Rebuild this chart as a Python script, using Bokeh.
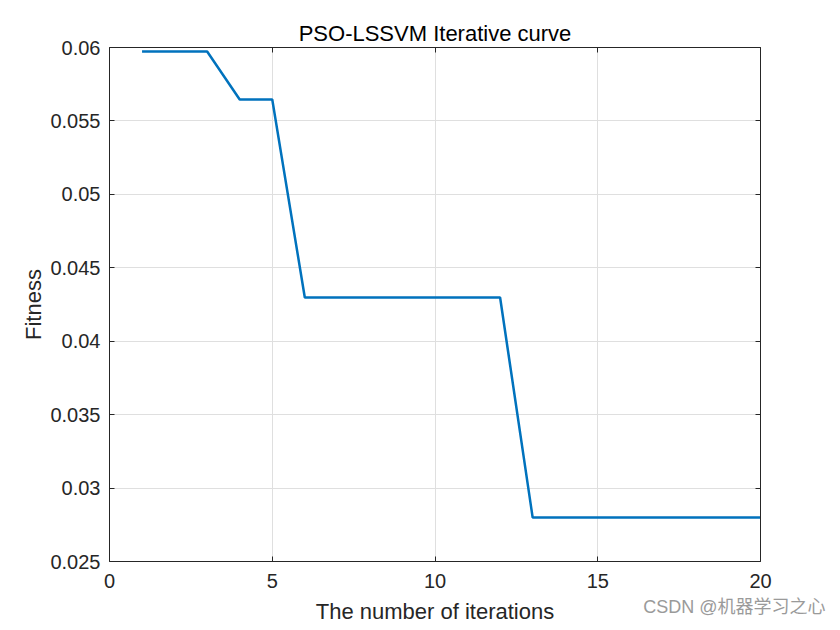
from bokeh.plotting import figure
from bokeh.models import LinearAxis, Range1d, FixedTicker, Title
from bokeh.embed import file_html
from bokeh.resources import INLINE

iterations = list(range(1, 21))
fitness = [0.05973, 0.05973, 0.05973, 0.05646, 0.05646, 0.04298, 0.04298, 0.04298,
           0.04298, 0.04298, 0.04298, 0.04298, 0.02800, 0.02800, 0.02800, 0.02800,
           0.02800, 0.02800, 0.02800, 0.02800]
x_ticks = [0, 5, 10, 15, 20]
y_ticks = [0.025, 0.03, 0.035, 0.04, 0.045, 0.05, 0.055, 0.06]

FONT = "Liberation Sans"
DARK = "#262626"

p = figure(width=840, height=630, output_backend="svg", toolbar_location=None,
           x_range=Range1d(0, 20), y_range=Range1d(0.025, 0.06),
           min_border_left=109, min_border_right=80, min_border_top=47, min_border_bottom=69,
           x_axis_label="The number of iterations", y_axis_label="Fitness")

p.title.text = "PSO-LSSVM Iterative curve"
p.title.align = "center"
p.title.text_font = FONT
p.title.text_font_size = "22px"
p.title.text_font_style = "normal"
p.title.text_color = "#000000"
p.title.standoff = 4

p.line(iterations, fitness, line_color="#0072BD", line_width=2.5)

for ax in p.xaxis:
    ax.ticker = FixedTicker(ticks=x_ticks)
for ax in p.yaxis:
    ax.ticker = FixedTicker(ticks=y_ticks)

for ax in list(p.xaxis) + list(p.yaxis):
    ax.axis_line_color = DARK
    ax.major_tick_line_color = DARK
    ax.major_tick_in = 5
    ax.major_tick_out = 0
    ax.minor_tick_line_color = None
    ax.major_label_text_font = FONT
    ax.major_label_text_font_size = "20px"
    ax.major_label_text_color = DARK
    ax.axis_label_text_font = FONT
    ax.axis_label_text_font_size = "22px"
    ax.axis_label_text_font_style = "normal"
    ax.axis_label_text_color = DARK

p.xaxis.major_label_standoff = 12
p.yaxis.major_label_standoff = 9
p.xaxis.axis_label_standoff = 8
p.yaxis.axis_label_standoff = 1

top = LinearAxis(ticker=FixedTicker(ticks=x_ticks), major_label_text_font_size="0px",
                 axis_line_color=DARK, major_tick_line_color=DARK, major_tick_in=5,
                 major_tick_out=0, minor_tick_line_color=None)
right = LinearAxis(ticker=FixedTicker(ticks=y_ticks), major_label_text_font_size="0px",
                   axis_line_color=DARK, major_tick_line_color=DARK, major_tick_in=5,
                   major_tick_out=0, minor_tick_line_color=None)
top.major_label_overrides = {t: "" for t in x_ticks}
right.major_label_overrides = {t: "" for t in y_ticks}
p.add_layout(top, "above")
p.add_layout(right, "right")

p.xgrid.grid_line_color = "#dfdfdf"
p.ygrid.grid_line_color = "#dfdfdf"
p.outline_line_color = None

# watermark, placed in the bottom panel (annotations in the centre are clipped to the frame)
wm = Title(text="CSDN @机器学习之心", align="right", vertical_align="top",
           offset=-65, standoff=-60,
           text_font="Liberation Sans, Noto Sans CJK SC", text_font_size="18px",
           text_font_style="normal", text_color="#9a9a9a")
p.add_layout(wm, "below")

open("out.html", "w").write(file_html(p, INLINE))
